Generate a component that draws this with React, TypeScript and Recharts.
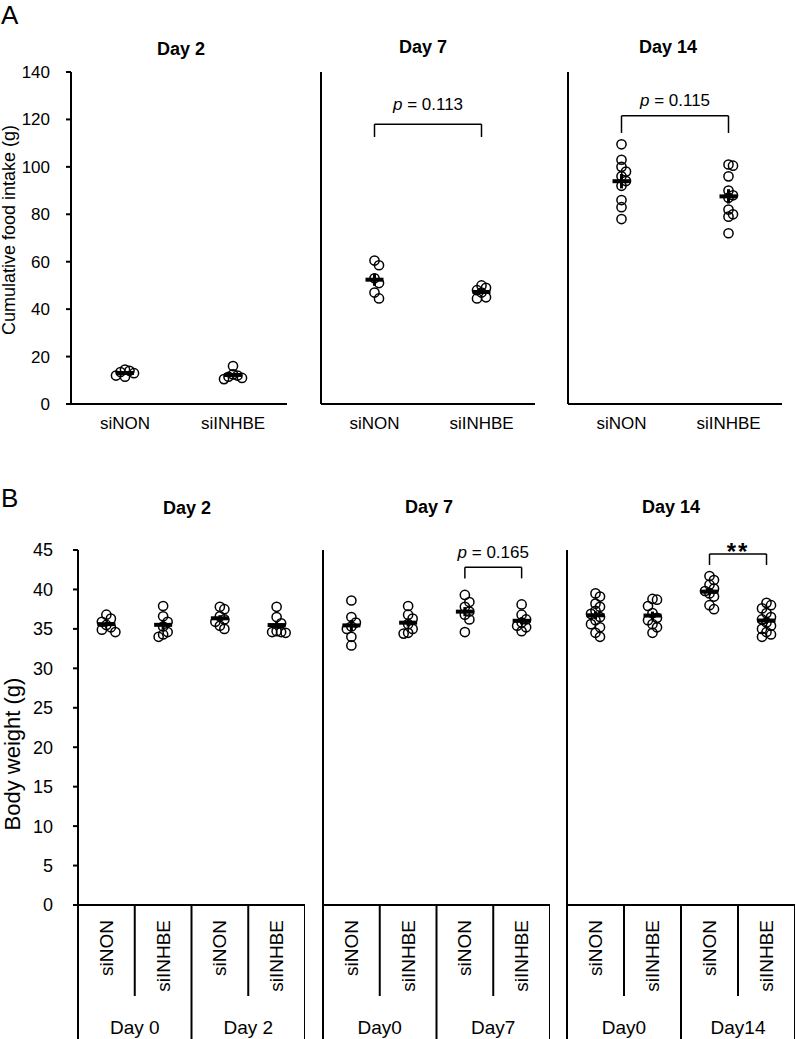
import React from 'react';
import { ScatterChart, Scatter, XAxis, YAxis, ReferenceLine, ErrorBar } from 'recharts';

const FONT = "'Liberation Sans', Arial, sans-serif";

// ---- A: cumulative food intake (g) ----
const foodCats = ['siNON', 'siINHBE'];
const foodTicks = [0, 20, 40, 60, 80, 100, 120, 140];
const foodDay2 = [
  [14.5, 14, 13.5, 13, 12, 11.5],
  [16, 12.5, 12, 11.5, 11, 10.5],
];
const foodDay7 = [
  [60.5, 58.5, 53, 51, 47, 44.5],
  [50, 49, 48, 47, 45, 44.5],
];
const foodDay14 = [
  [109.5, 103, 100, 98, 96, 94, 92, 86, 83, 78],
  [101, 100.5, 96, 90, 88, 87, 82, 80, 79, 72],
];

// ---- B: body weight (g) ----
const weightCats = ['siNON', 'siINHBE', 'siNON', 'siINHBE'];
const weightTicks = [0, 5, 10, 15, 20, 25, 30, 35, 40, 45];
const weightDay2Groups = ['Day 0', 'Day 2'];
const weightDay7Groups = ['Day0', 'Day7'];
const weightDay14Groups = ['Day0', 'Day14'];
const weightDay2 = [
  [36.8, 36.3, 35.9, 35.5, 35.2, 34.9, 34.6],
  [37.9, 36.6, 35.9, 35.3, 34.6, 34.3, 34.0],
  [37.8, 37.5, 36.6, 36.2, 35.9, 35.4, 35.0],
  [37.8, 36.5, 35.7, 34.7, 34.6, 34.6, 34.5],
];
const weightDay7 = [
  [38.6, 36.5, 35.8, 35.3, 35.0, 34.0, 32.9],
  [37.9, 36.8, 36.3, 35.6, 35.0, 34.5, 34.4],
  [39.3, 38.4, 37.8, 37.2, 36.8, 36.2, 34.6],
  [38.1, 36.8, 36.2, 35.8, 35.4, 35.2, 34.7],
];
const weightDay14 = [
  [39.5, 39.1, 38.2, 37.8, 37.3, 36.9, 36.5, 36.1, 35.6, 35.2, 34.5, 34.0],
  [38.8, 38.7, 37.9, 37.0, 36.4, 36.1, 35.6, 35.2, 34.5],
  [41.7, 41.2, 40.6, 40.1, 39.8, 39.5, 39.1, 38.0, 37.5],
  [38.3, 38.0, 37.6, 37.0, 36.5, 36.2, 35.8, 35.4, 35.0, 34.6, 34.3, 34.0],
];

type Bracket = { from: number; to: number; y: number; drop: number; text: string; dy: number };

const foodBracket7: Bracket = { from: 0.5, to: 1.5, y: 118, drop: 112.6, text: '0.113', dy: 14 };
const foodBracket14: Bracket = { from: 0.5, to: 1.5, y: 121.5, drop: 114.3, text: '0.115', dy: 10 };
const weightBracket7: Bracket = { from: 2.5, to: 3.5, y: 42.8, drop: 41.4, text: '0.165', dy: 9 };
const weightBracket14: Bracket = { from: 2.5, to: 3.5, y: 44.5, drop: 43.1, text: '**', dy: -6 };

// simple beeswarm: push overlapping points sideways
const dodge = (vals: number[], thr: number) => {
  const placed: { v: number; k: number }[] = [];
  return vals.map((v) => {
    for (const k of [0, 1, -1, 2, -2, 3, -3]) {
      if (!placed.some((p) => p.k === k && Math.abs(p.v - v) < thr)) {
        placed.push({ v, k });
        return k;
      }
    }
    return 0;
  });
};

const toPoints = (groups: number[][], thr: number) =>
  groups.flatMap((vals, i) => {
    const ks = dodge(vals, thr);
    return vals.map((v, j) => ({ x: i + 0.5, y: v, k: ks[j] }));
  });

const toMeans = (groups: number[][]) =>
  groups.map((vals, i) => {
    const n = vals.length;
    const m = vals.reduce((s, v) => s + v, 0) / n;
    const sd = Math.sqrt(vals.reduce((s, v) => s + (v - m) ** 2, 0) / (n - 1));
    return { x: i + 0.5, y: m, sem: sd / Math.sqrt(n) };
  });

const Ring = (props: any) => {
  const k = props.payload?.k ?? props.k ?? 0;
  return <circle cx={props.cx + k * 4.5} cy={props.cy} r={4.6} fill="none" stroke="#000" strokeWidth={1.5} />;
};

const MeanBar = (props: any) => (
  <rect x={props.cx - 9} y={props.cy - 2} width={18} height={4} fill="#000" />
);

const BracketLabel = (props: any) => {
  const { viewBox, text, dy } = props;
  const cx = viewBox.x + viewBox.width / 2;
  const y = viewBox.y - dy;
  if (text.startsWith('*')) {
    return (
      <text x={cx} y={y} textAnchor="middle" fontSize={24} fontWeight="bold" letterSpacing={2} fontFamily={FONT} fill="#000">
        {text}
      </text>
    );
  }
  return (
    <text x={cx} y={y} textAnchor="middle" fontSize={17} fontFamily={FONT} fill="#000">
      <tspan fontStyle="italic">p</tspan> = {text}
    </text>
  );
};

const StackedTick = (props: any) => {
  const { x, y, payload, half, cats, groups } = props;
  const i = Math.floor(payload.value);
  const long = 134;
  const short = 91;
  const rightLen = (i + 1) % 2 === 0 ? long : short;
  return (
    <g>
      {i === 0 && <line x1={x - half} y1={y} x2={x - half} y2={y + long} stroke="#000" strokeWidth={2} />}
      <line x1={x + half} y1={y} x2={x + half} y2={y + rightLen} stroke="#000" strokeWidth={2} />
      <text
        x={x}
        y={y + 15}
        transform={`rotate(-90 ${x} ${y + 15})`}
        textAnchor="end"
        dominantBaseline="central"
        fontSize={19}
        fontFamily={FONT}
        fill="#000"
      >
        {cats[i]}
      </text>
      {i % 2 === 1 && (
        <text x={x - half} y={y + 129} textAnchor="middle" fontSize={19} fontFamily={FONT} fill="#000">
          {groups[(i - 1) / 2]}
        </text>
      )}
    </g>
  );
};

interface PanelProps {
  left: number;
  top: number;
  width: number;
  height: number;
  padTop: number;
  axisW: number;
  axisH: number;
  data: number[][];
  cats: string[];
  ticks: number[];
  tickLabels: boolean;
  tickFont: number;
  tickMargin: number;
  thr: number;
  bracket?: Bracket;
  groups?: string[];
}

const Panel = (p: PanelProps) => {
  const n = p.cats.length;
  const points = toPoints(p.data, p.thr);
  const means = toMeans(p.data);
  const half = (p.width - p.axisW) / n / 2;
  const line = { stroke: '#000', strokeWidth: 2 };
  const b = p.bracket;
  return (
    <div style={{ position: 'absolute', left: p.left, top: p.top }}>
      <ScatterChart width={p.width} height={p.height} margin={{ top: p.padTop, right: 0, bottom: 0, left: 0 }}>
        <XAxis
          type="number"
          dataKey="x"
          domain={[0, n]}
          ticks={p.cats.map((_, i) => i + 0.5)}
          interval={0}
          height={p.axisH}
          axisLine={line}
          tickLine={false}
          tickSize={0}
          tickMargin={p.groups ? 0 : 13}
          tickFormatter={(v: number) => p.cats[Math.floor(v)]}
          tick={
            p.groups
              ? <StackedTick half={half} cats={p.cats} groups={p.groups} />
              : { fill: '#000', fontSize: 17, fontFamily: FONT }
          }
        />
        <YAxis
          type="number"
          dataKey="y"
          domain={[0, p.ticks[p.ticks.length - 1]]}
          ticks={p.ticks}
          interval={0}
          width={p.axisW}
          axisLine={line}
          tickLine={line}
          tickSize={5}
          tickMargin={p.tickMargin}
          tick={p.tickLabels ? { fill: '#000', fontSize: p.tickFont, fontFamily: FONT } : false}
        />
        <Scatter data={points} shape={<Ring />} isAnimationActive={false} />
        <Scatter data={means} shape={<MeanBar />} isAnimationActive={false}>
          <ErrorBar dataKey="sem" direction="y" width={0} stroke="#000" strokeWidth={3} />
        </Scatter>
        {b && (
          <ReferenceLine
            segment={[{ x: b.from, y: b.y }, { x: b.to, y: b.y }]}
            stroke="#000"
            strokeWidth={1.5}
            ifOverflow="visible"
            label={<BracketLabel text={b.text} dy={b.dy} />}
          />
        )}
        {b && (
          <ReferenceLine segment={[{ x: b.from, y: b.y }, { x: b.from, y: b.drop }]} stroke="#000" strokeWidth={1.5} ifOverflow="visible" />
        )}
        {b && (
          <ReferenceLine segment={[{ x: b.to, y: b.y }, { x: b.to, y: b.drop }]} stroke="#000" strokeWidth={1.5} ifOverflow="visible" />
        )}
      </ScatterChart>
    </div>
  );
};

const texts = { fontFamily: FONT, fill: '#000' };

export default function App() {
  const a = { top: 60, height: 384, padTop: 12, axisH: 40, cats: foodCats, ticks: foodTicks, tickFont: 17, thr: 3 };
  const w = { top: 520, height: 519, padTop: 30, axisH: 134, cats: weightCats, ticks: weightTicks, tickFont: 18, thr: 0.9 };
  return (
    <div style={{ position: 'absolute', left: 0, top: 0, width: 796, height: 1039, background: '#fff', overflow: 'hidden' }}>
      <Panel {...a} left={0} width={287} axisW={71} data={foodDay2} tickLabels tickMargin={16} />
      <Panel {...a} left={311} width={224} axisW={10} data={foodDay7} tickLabels={false} tickMargin={0} bracket={foodBracket7} />
      <Panel {...a} left={558} width={224} axisW={10} data={foodDay14} tickLabels={false} tickMargin={0} bracket={foodBracket14} />

      <Panel {...w} left={0} width={305} axisW={78} data={weightDay2} tickLabels tickMargin={20} groups={weightDay2Groups} />
      <Panel {...w} left={313} width={237} axisW={10} data={weightDay7} tickLabels={false} tickMargin={0} groups={weightDay7Groups} bracket={weightBracket7} />
      <Panel {...w} left={557} width={238} axisW={10} data={weightDay14} tickLabels={false} tickMargin={0} groups={weightDay14Groups} bracket={weightBracket14} />

      <svg width={796} height={1039} style={{ position: 'absolute', left: 0, top: 0, pointerEvents: 'none' }}>
        <text x={1} y={24} fontSize={26} {...texts}>A</text>
        <text x={1} y={507} fontSize={26} {...texts}>B</text>
        <text x={181} y={55} fontSize={18} fontWeight="bold" textAnchor="middle" {...texts}>Day 2</text>
        <text x={423} y={53} fontSize={18} fontWeight="bold" textAnchor="middle" {...texts}>Day 7</text>
        <text x={668} y={53} fontSize={18} fontWeight="bold" textAnchor="middle" {...texts}>Day 14</text>
        <text x={187} y={514} fontSize={18} fontWeight="bold" textAnchor="middle" {...texts}>Day 2</text>
        <text x={429} y={513} fontSize={18} fontWeight="bold" textAnchor="middle" {...texts}>Day 7</text>
        <text x={671} y={513} fontSize={18} fontWeight="bold" textAnchor="middle" {...texts}>Day 14</text>
        <text transform="rotate(-90 9 230)" x={9} y={230} fontSize={18} textAnchor="middle" dominantBaseline="central" {...texts}>
          Cumulative food intake (g)
        </text>
        <text transform="rotate(-90 12 754)" x={12} y={754} fontSize={22} textAnchor="middle" dominantBaseline="central" {...texts}>
          Body weight (g)
        </text>
      </svg>
    </div>
  );
}
